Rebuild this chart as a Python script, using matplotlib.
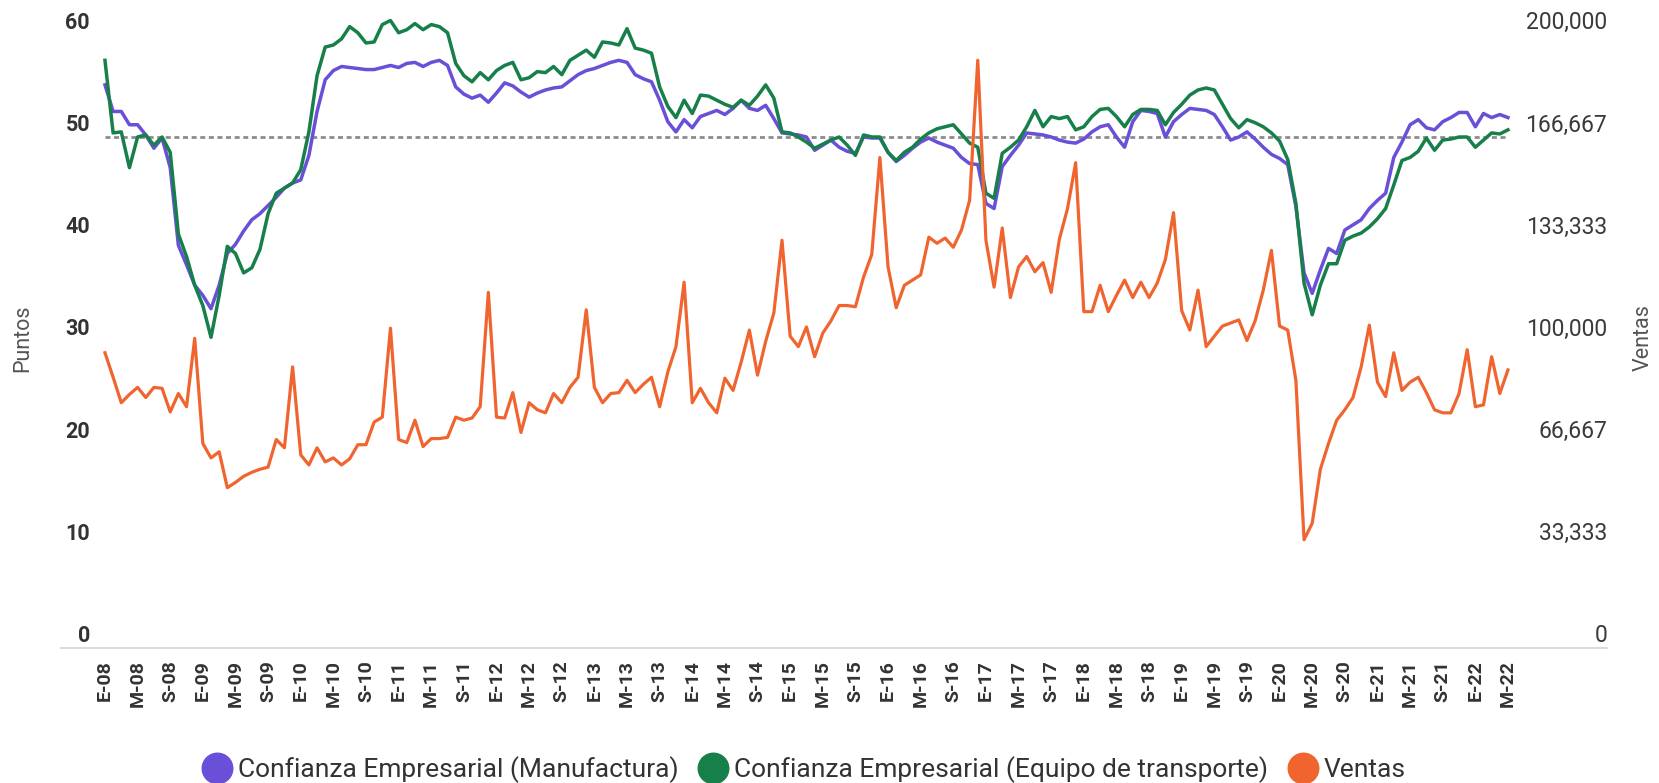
import matplotlib
matplotlib.use("Agg")
import matplotlib.pyplot as plt
from matplotlib.lines import Line2D
from matplotlib.transforms import ScaledTranslation

plt.rcParams['font.family'] = ['Roboto', 'DejaVu Sans']

# etiquetas del eje x (cada 4 meses, ene-2008 a may-2022)
etiquetas_x = ["E-08", "M-08", "S-08", "E-09", "M-09", "S-09", "E-10", "M-10", "S-10",
               "E-11", "M-11", "S-11", "E-12", "M-12", "S-12", "E-13", "M-13", "S-13",
               "E-14", "M-14", "S-14", "E-15", "M-15", "S-15", "E-16", "M-16", "S-16",
               "E-17", "M-17", "S-17", "E-18", "M-18", "S-18", "E-19", "M-19", "S-19",
               "E-20", "M-20", "S-20", "E-21", "M-21", "S-21", "E-22", "M-22"]

# Confianza Empresarial (Manufactura), puntos, mensual
manufactura = [
    55.1, 52.5, 52.5, 51.2, 51.2, 50.2, 48.9, 49.9, 47.0, 39.4, 37.5, 35.5,
    34.5, 33.2, 35.5, 38.6, 39.5, 40.8, 41.9, 42.5, 43.3, 44.1, 45.0, 45.5,
    45.8, 48.2, 52.5, 55.6, 56.5, 56.9, 56.8, 56.7, 56.6, 56.6, 56.8, 57.0,
    56.8, 57.2, 57.3, 56.9, 57.3, 57.5, 57.0, 54.9, 54.2, 53.8, 54.1, 53.4,
    54.3, 55.3, 55.0, 54.4, 53.9, 54.3, 54.6, 54.8, 54.9, 55.5, 56.1, 56.5,
    56.7, 57.0, 57.3, 57.5, 57.3, 56.1, 55.7, 55.4, 53.6, 51.5, 50.5, 51.7,
    50.9, 52.0, 52.3, 52.6, 52.2, 52.8, 53.6, 52.8, 52.6, 53.1, 51.8, 50.4,
    50.3, 50.2, 50.0, 48.7, 49.2, 49.7, 49.0, 48.6, 48.4, 50.0, 49.9, 49.9,
    48.5, 47.6, 48.2, 48.9, 49.5, 49.9, 49.5, 49.2, 48.9, 48.0, 47.4, 47.3,
    43.5, 43.0, 47.1, 48.2, 49.2, 50.4, 50.3, 50.2, 50.0, 49.7, 49.5, 49.4,
    49.8, 50.5, 51.0, 51.2, 50.0, 49.0, 51.5, 52.6, 52.5, 52.3, 50.0, 51.5,
    52.2, 52.8, 52.7, 52.6, 52.2, 51.0, 49.7, 50.0, 50.5, 49.8, 49.0, 48.3,
    47.9, 47.3, 43.2, 36.7, 34.7, 37.0, 39.1, 38.6, 40.9, 41.4, 41.9, 43.0,
    43.8, 44.5, 48.0, 49.5, 51.2, 51.7, 50.9, 50.7, 51.5, 51.9, 52.4, 52.4,
    51.0, 52.3, 51.9, 52.2, 51.9]

# Confianza Empresarial (Equipo de transporte), puntos, mensual
transporte = [
    57.5, 50.4, 50.5, 47.0, 50.0, 50.2, 49.2, 50.0, 48.5, 40.5, 38.3, 35.5,
    33.5, 30.4, 34.5, 39.3, 38.6, 36.7, 37.2, 39.0, 42.5, 44.5, 45.0, 45.5,
    46.8, 50.5, 56.0, 58.8, 59.0, 59.6, 60.8, 60.2, 59.2, 59.3, 61.0, 61.4,
    60.2, 60.5, 61.1, 60.5, 61.0, 60.8, 60.2, 57.2, 56.0, 55.4, 56.3, 55.6,
    56.5, 57.0, 57.3, 55.6, 55.8, 56.4, 56.3, 56.9, 56.1, 57.5, 58.0, 58.5,
    57.8, 59.3, 59.2, 59.0, 60.6, 58.7, 58.5, 58.2, 54.9, 53.0, 51.9, 53.6,
    52.3, 54.1, 54.0, 53.6, 53.2, 52.9, 53.6, 53.1, 54.0, 55.1, 53.8, 50.5,
    50.4, 50.0, 49.5, 48.9, 49.3, 49.7, 50.0, 49.2, 48.2, 50.2, 50.0, 50.0,
    48.5, 47.7, 48.5, 49.0, 49.8, 50.4, 50.8, 51.0, 51.2, 50.3, 49.4, 49.0,
    44.5, 44.0, 48.4, 49.0, 49.7, 51.0, 52.6, 51.0, 52.0, 51.8, 52.0, 50.7,
    51.0, 52.0, 52.7, 52.8, 52.0, 51.0, 52.2, 52.7, 52.7, 52.6, 51.2, 52.4,
    53.2, 54.1, 54.6, 54.8, 54.6, 53.2, 51.8, 50.9, 51.7, 51.4, 51.0, 50.4,
    49.6, 47.8, 43.5, 35.7, 32.6, 35.5, 37.6, 37.6, 39.9, 40.3, 40.6, 41.2,
    42.0, 43.0, 45.3, 47.7, 48.0, 48.6, 49.9, 48.7, 49.7, 49.8, 50.0, 50.0,
    49.0, 49.7, 50.4, 50.3, 50.7]

# Ventas, miles de unidades, mensual
ventas_miles = [
    96.3, 88.3, 80.0, 82.7, 85.0, 81.7, 85.0, 84.7, 77.0, 83.0, 78.7, 101.0,
    66.7, 62.0, 64.0, 52.3, 54.0, 56.0, 57.3, 58.3, 59.0, 68.0, 65.3, 91.7,
    63.0, 59.7, 65.3, 60.7, 62.0, 59.7, 61.7, 66.3, 66.3, 73.7, 75.3, 104.3,
    68.0, 67.0, 74.3, 65.7, 68.3, 68.3, 68.7, 75.3, 74.3, 75.0, 78.7, 116.0,
    75.3, 75.0, 83.3, 70.3, 80.0, 77.7, 76.7, 83.0, 80.0, 85.0, 88.3, 110.3,
    85.0, 80.0, 83.0, 83.3, 87.3, 83.3, 86.0, 88.3, 78.7, 90.0, 98.3, 119.3,
    80.0, 84.7, 80.0, 76.7, 88.0, 84.0, 93.3, 103.7, 89.0, 100.0, 109.3, 133.0,
    101.7, 98.3, 104.7, 95.0, 102.7, 106.7, 111.7, 111.7, 111.3, 121.0, 128.3, 160.0,
    124.3, 111.0, 118.3, 120.0, 121.7, 134.0, 132.0, 133.7, 130.7, 136.3, 146.0, 191.7,
    133.0, 117.7, 137.0, 114.3, 124.3, 127.7, 122.7, 125.7, 116.0, 133.3, 143.3, 158.3,
    109.7, 109.7, 118.3, 109.7, 115.0, 120.0, 114.3, 119.3, 114.3, 119.0, 126.7, 142.0,
    110.0, 103.7, 116.7, 98.3, 101.7, 105.0, 106.0, 107.0, 100.3, 106.7, 116.7, 129.7,
    105.0, 103.7, 87.3, 35.3, 40.7, 58.3, 66.7, 74.3, 77.7, 81.7, 91.7, 105.3,
    86.7, 82.0, 96.3, 84.0, 86.7, 88.3, 83.3, 77.7, 76.7, 76.7, 83.0, 97.3,
    78.7, 79.3, 95.0, 83.0, 90.7]

ticks_izq = [0, 10, 20, 30, 40, 50, 60]
ticks_der = [0, 33333, 66667, 100000, 133333, 166667, 200000]
umbral = 50

nombres = ["Confianza Empresarial (Manufactura)",
           "Confianza Empresarial (Equipo de transporte)",
           "Ventas"]
colores = ["#6a4fd8", "#17804a", "#f0652f"]

W, H = 1659, 783
fig = plt.figure(figsize=(W / 100, H / 100), dpi=100)
ax = fig.add_axes([61 / W, (H - 648) / H, (1607 - 61) / W, (648 - 10) / H])
ytop = (648 - 10) / 10.22
ax.set_ylim(0, ytop)
ax.set_xlim(-5.39, 184.14)

meses = list(range(len(manufactura)))
ax.plot(meses, manufactura, color=colores[0], lw=2.5, solid_joinstyle='round', zorder=3)
ax.plot(meses, transporte, color=colores[1], lw=2.5, solid_joinstyle='round', zorder=3)
ax.plot([meses[0], meses[-1]], [umbral, umbral], color="#8c8c8c", lw=2,
        dashes=(1.8, 1.3), zorder=2)
ax.axhline(0, color="#d3d3d3", lw=1.2, clip_on=False)

ax2 = ax.twinx()
ax2.set_ylim(0, ytop * 10000 / 3)
ventas = [v * 1000 for v in ventas_miles]
ax2.plot(meses, ventas, color=colores[2], lw=2.3, solid_joinstyle='round', zorder=4)

for a in (ax, ax2):
    for s in a.spines.values():
        s.set_visible(False)
    a.set_yticks([])

ax.set_xticks(meses[::4])
ax.set_xticklabels(etiquetas_x, rotation=90, fontsize=14, fontweight='bold', color="#333333")
ax.tick_params(axis='x', length=0, pad=8.5)

arriba = ScaledTranslation(0, 0.12, fig.dpi_scale_trans)
for v in ticks_izq:
    ax.text((90 - 61) / (1607 - 61), v, str(v), transform=ax.get_yaxis_transform() + arriba,
            ha='right', va='center', fontsize=15.5, fontweight='bold', color="#333333")
for v in ticks_der:
    ax2.text(1.0, v, f"{v:,}", transform=ax2.get_yaxis_transform() + arriba,
             ha='right', va='center', fontsize=16.5, color="#3a3a3a")

fig.text(23 / W, 1 - 338 / H, "Puntos", rotation=90, ha='center', va='center',
         fontsize=15.5, color="#555555")
fig.text(1643 / W, 1 - 338 / H, "Ventas", rotation=90, ha='center', va='center',
         fontsize=15.5, color="#555555")

handles = [Line2D([], [], marker='o', linestyle='', markersize=22, color=c) for c in colores]
fig.legend(handles, nombres, loc='center', bbox_to_anchor=(805 / W, 1 - 770 / H),
           ncol=3, frameon=False, fontsize=19, handletextpad=0.3, columnspacing=0.8,
           handlelength=1.0, labelcolor="#333333", borderpad=0)

fig.savefig("out.png", dpi=100, facecolor="white")
